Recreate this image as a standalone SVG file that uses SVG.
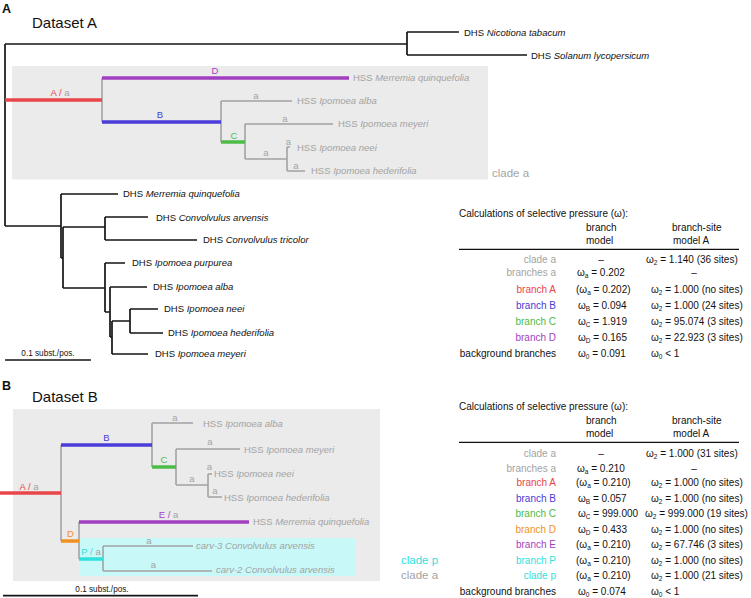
<svg xmlns="http://www.w3.org/2000/svg" width="751" height="598" viewBox="0 0 751 598">
<style>
text{font-family:"Liberation Sans",Arial,sans-serif;}
.lf{font-size:9.5px;fill:#111;}
.hs{font-size:9.5px;fill:#a3a3a3;}
.it{font-style:italic;}
.bl{font-size:9.5px;text-anchor:middle;}
.tb{font-size:10px;fill:#111;}
.rl{font-size:10px;text-anchor:end;}
.mid{text-anchor:middle;}
.sub{font-size:6.5px;}
.k{fill:none;stroke:#151515;stroke-width:1.7;}
.g{fill:none;stroke:#a3a3a3;stroke-width:1.6;}
.c{fill:none;stroke-width:3.5;}
.red{fill:#e8464a;} .blu{fill:#4a3cd8;} .grn{fill:#4cbc48;} .pur{fill:#a23fc0;} .org{fill:#f0921e;} .cya{fill:#30e0dc;} .gry{fill:#a3a3a3;}
</style>

<!-- ================= PANEL A ================= -->
<text x="2" y="12.5" font-size="12.5" font-weight="bold" fill="#111">A</text>
<text x="32" y="27.5" font-size="15" fill="#111">Dataset A</text>

<rect id="boxA" x="12" y="66" width="476" height="113.5" fill="#ebebeb"/>
<text id="cladeA_lbl" x="492" y="177" font-size="11.5" fill="#a3a3a3">clade a</text>

<g id="connectorsA">
  <path class="k" d="M5,44V226M5,44H407M407,32V55M407,32H459M407,55H527"/>
  <path class="k" d="M5,226H61M61,194V258M61,194H118M61,258H63M63,227V288M63,227H105M105,217V240M105,217H148M105,240H197M63,288H105M105,263V312M105,263H125M105,312H110M110,287V337M110,287H147M110,337H112M112,321V354M112,321H130M112,354H148M130,309V333M130,309H158M130,333H163"/>
  <path class="g" d="M102,78V122M221,101V142M221,101H292M245,124V159M245,124H333M245,159H287M287,147V171M287,147H290M287,171H305"/>
  <path class="c" stroke="#e8464a" d="M5,100H102"/>
  <path class="c" stroke="#a23fc0" d="M102,78H349"/>
  <path class="c" stroke="#4a3cd8" d="M102,122H221"/>
  <path class="c" stroke="#4cbc48" d="M221,142H245"/>
</g>

<g id="branchLabelsA">
  <text class="bl" x="60" y="96"><tspan class="red">A / </tspan><tspan class="gry">a</tspan></text>
  <text class="bl pur" x="215" y="74.3">D</text>
  <text class="bl blu" x="160" y="118.3">B</text>
  <text class="bl gry" x="256" y="98.5">a</text>
  <text class="bl grn" x="234" y="139">C</text>
  <text class="bl gry" x="285" y="121.5">a</text>
  <text class="bl gry" x="266" y="156">a</text>
  <text class="bl gry" x="288.5" y="144.5">a</text>
  <text class="bl gry" x="296" y="168.5">a</text>
</g>

<g id="leavesA">
  <g id="A_dhs_nico"><text class="lf" x="464" y="35.5">DHS <tspan class="it">Nicotiona tabacum</tspan></text></g>
  <g id="A_dhs_sola"><text class="lf" x="531" y="59">DHS <tspan class="it">Solanum lycopersicum</tspan></text></g>
  <g id="A_hss_merr"><text class="hs" x="353" y="81">HSS <tspan class="it">Merremia quinquefolia</tspan></text></g>
  <g id="A_hss_alba"><text class="hs" x="297" y="104.3">HSS <tspan class="it">Ipomoea alba</tspan></text></g>
  <g id="A_hss_meye"><text class="hs" x="338" y="127.3">HSS <tspan class="it">Ipomoea meyeri</tspan></text></g>
  <g id="A_hss_neei"><text class="hs" x="297" y="151">HSS <tspan class="it">Ipomoea neei</tspan></text></g>
  <g id="A_hss_hede"><text class="hs" x="311" y="174">HSS <tspan class="it">Ipomoea hederifolia</tspan></text></g>
  <g id="A_dhs_merr"><text class="lf" x="123" y="197.3">DHS <tspan class="it">Merremia quinquefolia</tspan></text></g>
  <g id="A_dhs_carv"><text class="lf" x="156" y="220.5">DHS <tspan class="it">Convolvulus arvensis</tspan></text></g>
  <g id="A_dhs_ctri"><text class="lf" x="203" y="242.7">DHS <tspan class="it">Convolvulus tricolor</tspan></text></g>
  <g id="A_dhs_purp"><text class="lf" x="132" y="266">DHS <tspan class="it">Ipomoea purpurea</tspan></text></g>
  <g id="A_dhs_alba"><text class="lf" x="153" y="290">DHS <tspan class="it">Ipomoea alba</tspan></text></g>
  <g id="A_dhs_neei"><text class="lf" x="164" y="312">DHS <tspan class="it">Ipomoea neei</tspan></text></g>
  <g id="A_dhs_hede"><text class="lf" x="168" y="336">DHS <tspan class="it">Ipomoea hederifolia</tspan></text></g>
  <g id="A_dhs_meye"><text class="lf" x="155" y="357.3">DHS <tspan class="it">Ipomoea meyeri</tspan></text></g>
</g>

<g id="scaleA">
  <path class="k" d="M5,360H91"/>
  <text x="48" y="356" font-size="8.2" fill="#111" text-anchor="middle">0.1 subst./pos.</text>
</g>

<g id="tableA">
  <text class="tb" x="459" y="216.5">Calculations of selective pressure (ω):</text>
  <text class="tb" x="586" y="231">branch</text>
  <text class="tb" x="586" y="243.8">model</text>
  <text class="tb" x="672" y="231">branch-site</text>
  <text class="tb" x="673" y="243.8">model A</text>
  <path d="M459,249.3H739" stroke="#111" stroke-width="1.2"/>
  <text class="rl gry" x="556" y="262.5">clade a</text>
  <text class="rl gry" x="556" y="276">branches a</text>
  <text class="rl red" x="556" y="292.5">branch A</text>
  <text class="rl blu" x="556" y="308.5">branch B</text>
  <text class="rl grn" x="556" y="325">branch C</text>
  <text class="rl pur" x="556" y="341">branch D</text>
  <text class="rl" x="556" y="357" fill="#111">background branches</text>

  <text class="tb mid" x="601" y="262.5">–</text>
  <text class="tb" x="577" y="276">ω<tspan class="sub" baseline-shift="-1.5">a</tspan> = 0.202</text>
  <text class="tb" x="576" y="292.5">(ω<tspan class="sub" baseline-shift="-1.5">a</tspan> = 0.202)</text>
  <text class="tb" x="578" y="308.5">ω<tspan class="sub" baseline-shift="-1.5">B</tspan> = 0.094</text>
  <text class="tb" x="578" y="325">ω<tspan class="sub" baseline-shift="-1.5">C</tspan> = 1.919</text>
  <text class="tb" x="578" y="341">ω<tspan class="sub" baseline-shift="-1.5">D</tspan> = 0.165</text>
  <text class="tb" x="578" y="357">ω<tspan class="sub" baseline-shift="-1.5">0</tspan> = 0.091</text>
  <text class="tb" x="646" y="262.5">ω<tspan class="sub" baseline-shift="-1.5">2</tspan> = 1.140 (36 sites)</text>
  <text class="tb mid" x="694" y="276">–</text>
  <text class="tb" x="651" y="292.5">ω<tspan class="sub" baseline-shift="-1.5">2</tspan> = 1.000 (no sites)</text>
  <text class="tb" x="651" y="308.5">ω<tspan class="sub" baseline-shift="-1.5">2</tspan> = 1.000 (24 sites)</text>
  <text class="tb" x="651" y="325">ω<tspan class="sub" baseline-shift="-1.5">2</tspan> = 95.074 (3 sites)</text>
  <text class="tb" x="651" y="341">ω<tspan class="sub" baseline-shift="-1.5">2</tspan> = 22.923 (3 sites)</text>
  <text class="tb" x="651" y="357">ω<tspan class="sub" baseline-shift="-1.5">0</tspan> &lt; 1</text>
</g>

<!-- ================= PANEL B ================= -->
<text x="2" y="390" font-size="12.5" font-weight="bold" fill="#111">B</text>
<text x="32" y="401.5" font-size="15" fill="#111">Dataset B</text>

<rect id="boxB" x="13" y="409" width="367" height="172" fill="#ebebeb"/>
<rect id="boxP" x="80" y="538" width="275" height="38" fill="#c8f8f8"/>
<text id="cladeP_lbl" x="401" y="564" font-size="11.5" fill="#30e0dc">clade p</text>
<text id="cladeB_lbl" x="401" y="579" font-size="11.5" fill="#a3a3a3">clade a</text>

<g id="connectorsB">
  <path class="g" d="M61,445V541M152,423V467M152,423H193M176,449V485M176,449H240M176,485H208M208,474V497M208,474H212M208,497H222M79,522V559M103,546V571M103,546H193M103,571H212"/>
  <path class="c" stroke="#e8464a" d="M0,493H61"/>
  <path class="c" stroke="#4a3cd8" d="M61,445H152"/>
  <path class="c" stroke="#4cbc48" d="M152,467H176"/>
  <path class="c" stroke="#f0921e" d="M61,541H79"/>
  <path class="c" stroke="#a23fc0" d="M79,522H249"/>
  <path class="c" stroke="#30e0dc" d="M79,559H103"/>
</g>

<g id="branchLabelsB">
  <text class="bl" x="29" y="489.5"><tspan class="red">A / </tspan><tspan class="gry">a</tspan></text>
  <text class="bl blu" x="106.5" y="440.5">B</text>
  <text class="bl gry" x="175" y="420.5">a</text>
  <text class="bl grn" x="164" y="463">C</text>
  <text class="bl gry" x="210" y="445">a</text>
  <text class="bl gry" x="192" y="482">a</text>
  <text class="bl gry" x="209.5" y="470">a</text>
  <text class="bl gry" x="215" y="494">a</text>
  <text class="bl" x="168.5" y="518"><tspan class="pur">E / </tspan><tspan class="gry">a</tspan></text>
  <text class="bl org" x="70.5" y="537">D</text>
  <text class="bl" x="91" y="555"><tspan class="cya">P / </tspan><tspan class="gry">a</tspan></text>
  <text class="bl gry" x="149" y="543.5">a</text>
  <text class="bl gry" x="153.5" y="568">a</text>
</g>

<g id="leavesB">
  <g id="B_hss_alba"><text class="hs" x="203" y="427.4">HSS <tspan class="it">Ipomoea alba</tspan></text></g>
  <g id="B_hss_meye"><text class="hs" x="244" y="453.3">HSS <tspan class="it">Ipomoea meyeri</tspan></text></g>
  <g id="B_hss_neei"><text class="hs" x="214" y="477.3">HSS <tspan class="it">Ipomoea neei</tspan></text></g>
  <g id="B_hss_hede"><text class="hs" x="224" y="500.6">HSS <tspan class="it">Ipomoea hederifolia</tspan></text></g>
  <g id="B_hss_merr"><text class="hs" x="253" y="525">HSS <tspan class="it">Merremia quinquefolia</tspan></text></g>
  <g id="B_carv3"><text class="hs it" x="196" y="549.3">carv-3 Convolvulus arvensis</text></g>
  <g id="B_carv2"><text class="hs it" x="216" y="572.6">carv-2 Convolvulus arvensis</text></g>
</g>

<g id="scaleB">
  <path class="k" d="M3,595.7H198"/>
  <text x="102" y="592" font-size="8.2" fill="#111" text-anchor="middle">0.1 subst./pos.</text>
</g>

<g id="tableB">
  <text class="tb" x="459" y="409.5">Calculations of selective pressure (ω):</text>
  <text class="tb" x="586" y="424">branch</text>
  <text class="tb" x="586" y="436.8">model</text>
  <text class="tb" x="672" y="424">branch-site</text>
  <text class="tb" x="673" y="436.8">model A</text>
  <path d="M459,442.3H739" stroke="#111" stroke-width="1.2"/>
  <text class="rl gry" x="556" y="456.5">clade a</text>
  <text class="rl gry" x="556" y="471.5">branches a</text>
  <text class="rl red" x="556" y="485.5">branch A</text>
  <text class="rl blu" x="556" y="501.5">branch B</text>
  <text class="rl grn" x="556" y="517">branch C</text>
  <text class="rl org" x="556" y="532.5">branch D</text>
  <text class="rl pur" x="556" y="548">branch E</text>
  <text class="rl cya" x="556" y="563.5">branch P</text>
  <text class="rl cya" x="556" y="578.5">clade p</text>
  <text class="rl" x="556" y="594.5" fill="#111">background branches</text>

  <text class="tb mid" x="601" y="456.5">–</text>
  <text class="tb" x="577" y="471.5">ω<tspan class="sub" baseline-shift="-1.5">a</tspan> = 0.210</text>
  <text class="tb" x="576" y="485.5">(ω<tspan class="sub" baseline-shift="-1.5">a</tspan> = 0.210)</text>
  <text class="tb" x="578" y="501.5">ω<tspan class="sub" baseline-shift="-1.5">B</tspan> = 0.057</text>
  <text class="tb" x="578" y="517">ω<tspan class="sub" baseline-shift="-1.5">C</tspan> = 999.000</text>
  <text class="tb" x="578" y="532.5">ω<tspan class="sub" baseline-shift="-1.5">D</tspan> = 0.433</text>
  <text class="tb" x="576" y="548">(ω<tspan class="sub" baseline-shift="-1.5">a</tspan> = 0.210)</text>
  <text class="tb" x="576" y="563.5">(ω<tspan class="sub" baseline-shift="-1.5">a</tspan> = 0.210)</text>
  <text class="tb" x="576" y="578.5">(ω<tspan class="sub" baseline-shift="-1.5">a</tspan> = 0.210)</text>
  <text class="tb" x="578" y="594.5">ω<tspan class="sub" baseline-shift="-1.5">0</tspan> = 0.074</text>

  <text class="tb" x="646" y="456.5">ω<tspan class="sub" baseline-shift="-1.5">2</tspan> = 1.000 (31 sites)</text>
  <text class="tb mid" x="694" y="471.5">–</text>
  <text class="tb" x="651" y="485.5">ω<tspan class="sub" baseline-shift="-1.5">2</tspan> = 1.000 (no sites)</text>
  <text class="tb" x="651" y="501.5">ω<tspan class="sub" baseline-shift="-1.5">2</tspan> = 1.000 (no sites)</text>
  <text class="tb" x="645" y="517">ω<tspan class="sub" baseline-shift="-1.5">2</tspan> = 999.000 (19 sites)</text>
  <text class="tb" x="651" y="532.5">ω<tspan class="sub" baseline-shift="-1.5">2</tspan> = 1.000 (no sites)</text>
  <text class="tb" x="651" y="548">ω<tspan class="sub" baseline-shift="-1.5">2</tspan> = 67.746 (3 sites)</text>
  <text class="tb" x="651" y="563.5">ω<tspan class="sub" baseline-shift="-1.5">2</tspan> = 1.000 (no sites)</text>
  <text class="tb" x="651" y="578.5">ω<tspan class="sub" baseline-shift="-1.5">2</tspan> = 1.000 (21 sites)</text>
  <text class="tb" x="651" y="594.5">ω<tspan class="sub" baseline-shift="-1.5">0</tspan> &lt; 1</text>
</g>
</svg>
